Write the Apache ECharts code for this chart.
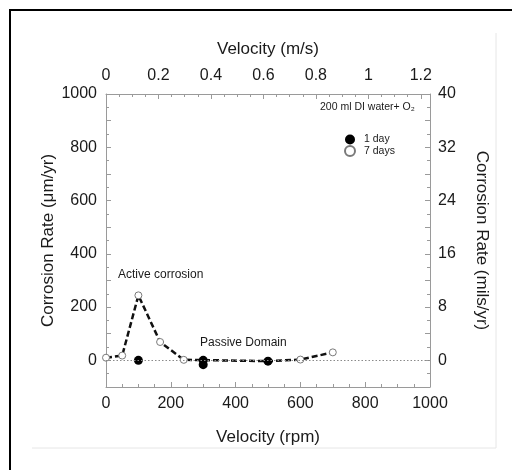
<!DOCTYPE html>
<html>
<head>
<meta charset="utf-8">
<script src="https://cdn.jsdelivr.net/npm/echarts@6/dist/echarts.min.js"></script>
<style>
html,body{margin:0;padding:0;background:#fff;}
#chart{width:512px;height:470px;}
</style>
</head>
<body>
<div id="chart"></div>
<script>
// Data
const rpm7Days = [0, 50, 100, 167, 240, 300, 500, 600, 700];
const rate7Days = [10, 18, 244, 69, 2, 1, -3, 3, 30];
const rpm1Day = [100, 300, 300, 500];
const rate1Day = [0, 0, -16, -3];
const seriesNames = ['1 day', '7 days'];
const bottomTicks = [0, 200, 400, 600, 800, 1000];
const leftTicks = [0, 200, 400, 600, 800, 1000];
const rightTicks = [0, 8, 16, 24, 32, 40];
const topTicks = [0, 0.2, 0.4, 0.6, 0.8, 1, 1.2];

const FONT = 'Liberation Sans, Arial, Helvetica, sans-serif';
const TXT = '#1a1a1a';
const AX = '#9a9a9a';

function near(v, arr) { return arr.some(t => Math.abs(t - v) < 1e-6); }

const chart = echarts.init(document.getElementById('chart'), null, {renderer: 'canvas'});

function axisBase(split) {
  return {
    axisLine: {show: true, onZero: false, lineStyle: {color: AX, width: 1}},
    axisTick: {show: true, inside: true, length: 5, lineStyle: {color: AX}},
    minorTick: {show: true, splitNumber: split, length: 3, lineStyle: {color: AX}},
    splitLine: {show: false},
    minorSplitLine: {show: false},
    nameLocation: 'middle',
    nameMoveOverlap: false,
    nameTextStyle: {fontFamily: FONT, fontSize: 17, color: TXT}
  };
}

const option = {
  animation: false,
  backgroundColor: '#fff',
  grid: {left: 106, right: 82, top: 94, bottom: 83, containLabel: false},
  xAxis: [
    Object.assign(axisBase(4), {
      type: 'value', position: 'bottom', min: 0, max: 1000, interval: 200,
      name: 'Velocity (rpm)', nameGap: 42,
      axisLabel: {fontFamily: FONT, fontSize: 16, color: TXT, margin: 9,
        formatter: v => near(v, bottomTicks) ? String(v) : ''}
    }),
    Object.assign(axisBase(4), {
      type: 'value', position: 'top', min: 0, max: 1.235, interval: 0.2,
      name: 'Velocity (m/s)', nameGap: 36,
      axisLabel: {fontFamily: FONT, fontSize: 16, color: TXT, margin: 10, showMaxLabel: false,
        formatter: v => near(v, topTicks) ? String(Math.round(v * 10) / 10) : ''}
    })
  ],
  yAxis: [
    Object.assign(axisBase(2), {
      type: 'value', position: 'left', min: -100, max: 1000, interval: 100,
      name: 'Corrosion Rate (μm/yr)', nameGap: 49,
      axisLabel: {fontFamily: FONT, fontSize: 16, color: TXT, margin: 9,
        formatter: v => near(v, leftTicks) ? String(v) : ''}
    }),
    Object.assign(axisBase(2), {
      type: 'value', position: 'right', min: -4, max: 40, interval: 4,
      name: 'Corrosion Rate (mils/yr)', nameGap: 43, nameRotate: -90,
      axisLabel: {fontFamily: FONT, fontSize: 16, color: TXT, margin: 8,
        formatter: v => near(v, rightTicks) ? String(v) : ''}
    })
  ],
  legend: {
    orient: 'vertical', left: 344, top: 134, padding: 0, itemWidth: 10, itemHeight: 10, itemGap: 0,
    textStyle: {fontFamily: FONT, fontSize: 10.5, color: TXT, padding: [0, 0, 0, 4]},
    data: [{name: seriesNames[0], icon: 'circle'}, {name: seriesNames[1], icon: 'circle'}]
  },
  series: [
    {
      name: seriesNames[1], type: 'line', xAxisIndex: 0, yAxisIndex: 0,
      data: rpm7Days.map((x, i) => [x, rate7Days[i]]),
      symbol: 'circle', symbolSize: 7, z: 3,
      itemStyle: {color: '#fff', borderColor: '#7a7a7a', borderWidth: 1},
      lineStyle: {color: '#111', width: 2.5, type: [6, 3]},
      markLine: {
        silent: true, symbol: ['none', 'none'], label: {show: false},
        lineStyle: {color: '#8a8a8a', type: [1.5, 2], width: 1},
        data: [{yAxis: 0}]
      }
    },
    {
      name: seriesNames[0], type: 'scatter', xAxisIndex: 0, yAxisIndex: 0,
      data: rpm1Day.map((x, i) => [x, rate1Day[i]]),
      symbol: 'circle', symbolSize: 9, z: 4,
      itemStyle: {color: '#000', opacity: 1}
    }
  ],
  graphic: [
    {type: 'rect', silent: true, shape: {x: 10, y: 10, width: 540, height: 500},
     style: {fill: 'none', stroke: '#000', lineWidth: 2}},
    {type: 'line', silent: true, shape: {x1: 496, y1: 33, x2: 496, y2: 448},
     style: {stroke: '#e6e6e6', lineWidth: 1}},
    {type: 'line', silent: true, shape: {x1: 32, y1: 448, x2: 496, y2: 448},
     style: {stroke: '#e6e6e6', lineWidth: 1}},
    {type: 'text', silent: true, left: 118, top: 269,
     style: {text: 'Active corrosion', font: '12px ' + FONT, fill: TXT}},
    {type: 'text', silent: true, left: 200, top: 337,
     style: {text: 'Passive Domain', font: '12px ' + FONT, fill: TXT}},
    {type: 'text', silent: true, left: 320, top: 102,
     style: {text: '200 ml DI water+ O₂', font: '10.5px ' + FONT, fill: TXT}}
  ]
};
chart.setOption(option);
</script>
</body>
</html>
